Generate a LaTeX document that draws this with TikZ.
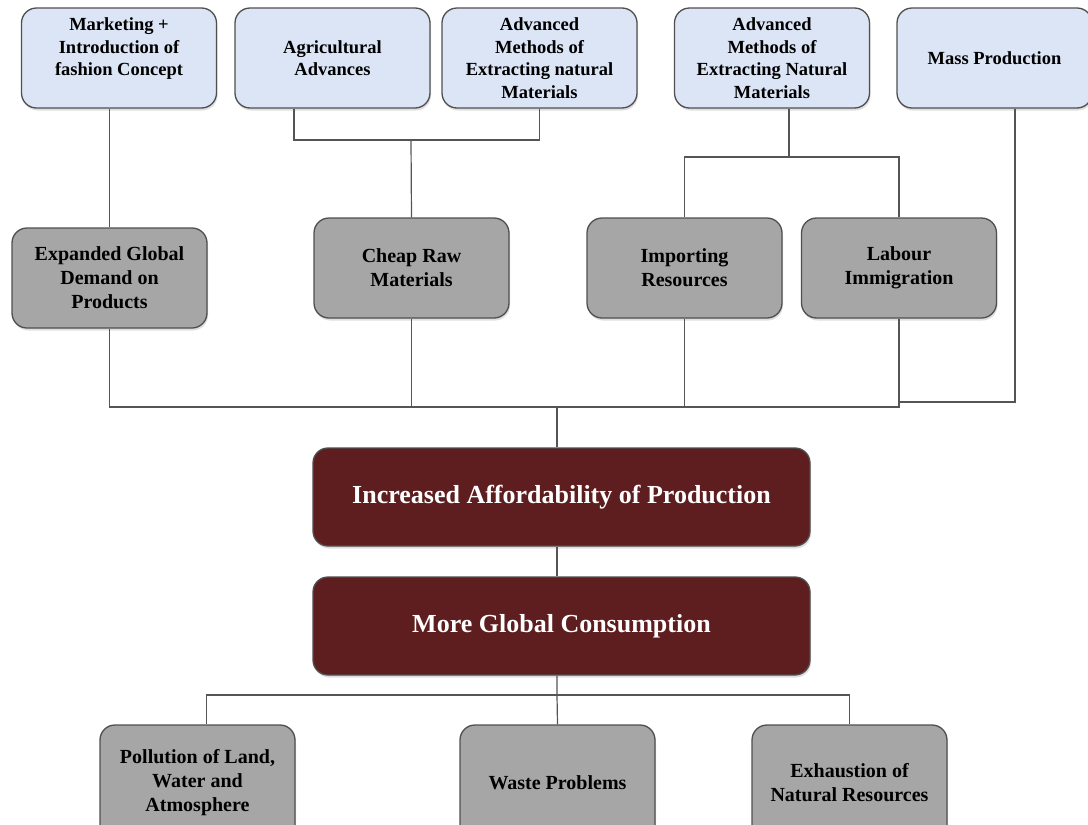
\documentclass[tikz,border=0pt]{standalone}
\usepackage{fontspec}
\setmainfont{Liberation Serif}
\usepackage{tikz}
\usetikzlibrary{positioning,calc,shadows}
\definecolor{CauseBlue}{HTML}{DCE5F6}
\definecolor{FactorGrey}{HTML}{A6A6A6}
\definecolor{CoreRed}{HTML}{5E1E20}
\definecolor{EdgeGrey}{HTML}{4F4F4F}
\definecolor{LinkGrey}{HTML}{555555}

\begin{document}
\begin{tikzpicture}[
    x=1pt, y=-1pt,
    box/.style={
      draw=EdgeGrey,
      line width=1.3pt,
      fill=#1,
      rounded corners=15pt,
      align=center,
      inner sep=2pt,
      minimum width=195pt,
      drop shadow={opacity=0.25, shadow xshift=1pt, shadow yshift=-2.5pt}
    },
    causebox/.style={box=CauseBlue, minimum height=100pt,
      font=\fontsize{18.5}{22.5}\selectfont\bfseries},
    factorbox/.style={box=FactorGrey, minimum height=100pt,
      font=\fontsize{20}{24}\selectfont\bfseries},
    corebox/.style={
      box=CoreRed,
      minimum width=497pt,
      minimum height=98pt,
      text=white,
      font=\fontsize{26}{30}\selectfont\bfseries
    },
    effectbox/.style={box=FactorGrey, minimum height=115pt,
      font=\fontsize{20}{24}\selectfont\bfseries},
    link/.style={
      line width=1.2pt,
      color=LinkGrey
    }
  ]
  \clip (0,0) rectangle (1088,825);

  % Root causes
  \node[causebox] (mkt)  at (119,58)   {Marketing +\\Introduction of\\fashion Concept\\\mbox{}};
  \node[causebox] (agr)  at (332.5,58) {Agricultural\\Advances};
  \node[causebox] (adv1) at (539.5,58) {Advanced\\Methods of\\Extracting natural\\Materials};
  \node[causebox] (adv2) at (772,58)   {Advanced\\Methods of\\Extracting Natural\\Materials};
  \node[causebox] (mass) at (994.5,58) {Mass Production};

  % Intermediate factors
  \node[factorbox] (dem) at (109.5,278) {Expanded Global\\Demand on\\Products};
  \node[factorbox] (raw) at (411.5,268) {Cheap Raw\\Materials};
  \node[factorbox] (imp) at (684.5,268) {Importing\\Resources};
  \node[factorbox] (lab) at (899,268)   {Labour\\Immigration};

  % Core chain
  \node[corebox] (inc)  at (561.5,497) {Increased Affordability of Production};
  \node[corebox] (cons) at (561.5,626) {More Global Consumption};

  % Effects
  \node[effectbox] (pol)   at (197.5,782.5) {Pollution of Land,\\Water and\\Atmosphere};
  \node[effectbox] (waste) at (557.5,782.5) {Waste Problems};
  \node[effectbox] (exh)   at (849.5,782.5) {Exhaustion of\\Natural Resources};

  % Junctions
  \coordinate (j1)   at (411,140);
  \coordinate (j2)   at (789,157);
  \coordinate (j3)   at (899,402);
  \coordinate (bus)  at (557,407);
  \coordinate (bus2) at (557,695);

  % Causes to factors
  \draw[link] (dem.north |- mkt.south) -- (dem.north);
  \draw[link] ([xshift=-38.5pt]agr.south) |- (adv1.south |- j1) -- (adv1.south);
  \draw[link] (j1) -- (raw.north);
  \draw[link] ([xshift=17pt]adv2.south) -- (j2);
  \draw[link] (imp.north) |- (j2) -| (lab.north);
  \draw[link] ([xshift=20.5pt]mass.south) |- (j3);

  % Factors to core
  \draw[link] (dem.south) |- (bus -| lab.south) -- (lab.south);
  \draw[link] (raw.south) -- (raw.south |- bus);
  \draw[link] (imp.south) -- (imp.south |- bus);
  \draw[link] (bus) -- (bus |- inc.north);
  \draw[link] (bus |- inc.south) -- (bus |- cons.north);

  % Core to effects
  \draw[link] (bus |- cons.south) -- (bus2) -- (waste.north);
  \draw[link] ([xshift=9pt]pol.north) |- (bus2) -| (exh.north);

\end{tikzpicture}
\end{document}
